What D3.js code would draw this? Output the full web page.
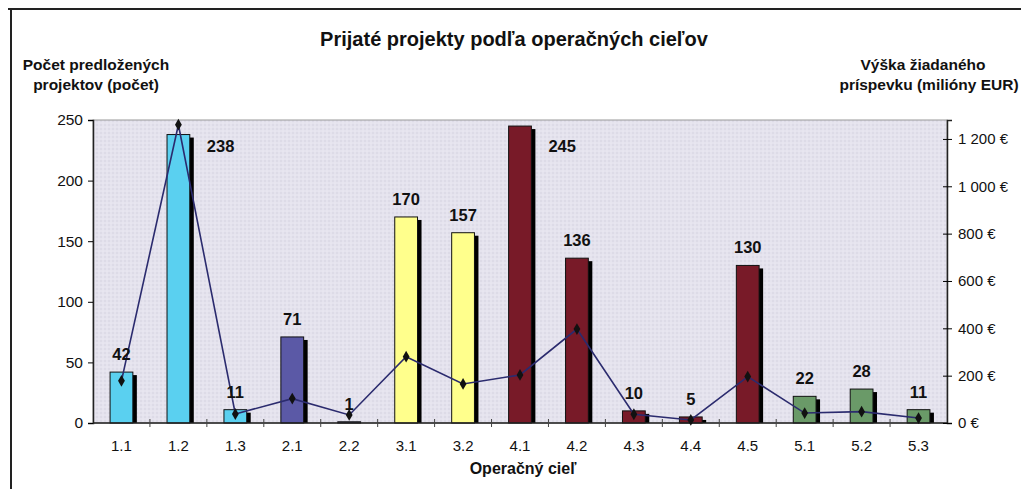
<!DOCTYPE html>
<html>
<head>
<meta charset="utf-8">
<script src="https://cdn.jsdelivr.net/npm/d3@7"></script>
<style>
  body { margin: 0; background: #fff; }
  text { font-family: "Liberation Sans", Arial, sans-serif; fill: #111; }
</style>
</head>
<body>
<svg width="1021" height="489"></svg>
<script>
var categories = ["1.1","1.2","1.3","2.1","2.2","3.1","3.2","4.1","4.2","4.3","4.4","4.5","5.1","5.2","5.3"];
var groups = ["1","1","1","2","2","3","3","4","4","4","4","4","5","5","5"];
var projects = [42, 238, 11, 71, 1, 170, 157, 245, 136, 10, 5, 130, 22, 28, 11];
var amounts = [178, 1260, 38, 103, 34, 280, 165, 203, 397, 37, 13, 196, 42, 48, 21];
var leftTicks = [0, 50, 100, 150, 200, 250];
var rightTicks = [0, 200, 400, 600, 800, 1000, 1200];

var groupColor = {"1": "#5ad0f0", "2": "#5b59a6", "3": "#ffff8c", "4": "#781a28", "5": "#6a9a68"};

var svg = d3.select("svg"),
    pLeft = 93, pRight = 947, pTop = 120, pBottom = 423;

var x = d3.scaleBand().domain(categories).range([pLeft, pRight]);
var y = d3.scaleLinear().domain([0, 250]).range([pBottom, pTop]);
var y2 = d3.scaleLinear().domain([0, 1280]).range([pBottom, pTop]);

// dotted background pattern
var defs = svg.append("defs");
var pat = defs.append("pattern").attr("id", "dots")
    .attr("width", 4).attr("height", 4).attr("patternUnits", "userSpaceOnUse");
pat.append("rect").attr("width", 4).attr("height", 4).attr("fill", "#e5e3ee");
pat.append("circle").attr("cx", 1).attr("cy", 1).attr("r", 0.8).attr("fill", "#d4d2e0");
pat.append("circle").attr("cx", 3).attr("cy", 3).attr("r", 0.6).attr("fill", "#f1f0f6");

// frame lines of the scanned page
svg.append("line").attr("x1", 8).attr("x2", 1021).attr("y1", 9).attr("y2", 9)
    .attr("stroke", "#222").attr("stroke-width", 2);
svg.append("line").attr("x1", 11).attr("x2", 11).attr("y1", 8).attr("y2", 489)
    .attr("stroke", "#222").attr("stroke-width", 2);

// plot area
svg.append("rect").attr("x", pLeft).attr("y", pTop)
    .attr("width", pRight - pLeft).attr("height", pBottom - pTop)
    .attr("fill", "url(#dots)").attr("stroke", "#999").attr("stroke-width", 1);

// bars with shadow
var bw = x.bandwidth() * 0.4;
var bars = svg.append("g").selectAll("g").data(categories).enter().append("g");

bars.append("rect")
    .attr("x", function(d) { return x(d) + (x.bandwidth() - bw) / 2 + 4; })
    .attr("y", function(d, i) { return Math.min(y(projects[i]) + 3, pBottom); })
    .attr("width", bw)
    .attr("height", function(d, i) { return Math.max(pBottom - y(projects[i]) - 3, 0); })
    .attr("fill", "#000");

bars.append("rect")
    .attr("x", function(d) { return x(d) + (x.bandwidth() - bw) / 2; })
    .attr("y", function(d, i) { return y(projects[i]); })
    .attr("width", bw)
    .attr("height", function(d, i) { return pBottom - y(projects[i]); })
    .attr("fill", function(d, i) { return groupColor[groups[i]]; })
    .attr("stroke", "#111").attr("stroke-width", 1);

// axes
var xAxis = svg.append("g").attr("transform", "translate(0," + pBottom + ")");
xAxis.append("line").attr("x1", pLeft).attr("x2", pRight).attr("stroke", "#222").attr("stroke-width", 1.5);
xAxis.selectAll(".tk").data(categories.slice(1)).enter().append("line")
    .attr("x1", function(d) { return x(d); }).attr("x2", function(d) { return x(d); })
    .attr("y1", -4).attr("y2", 4).attr("stroke", "#444");
xAxis.selectAll(".lb").data(categories).enter().append("text")
    .attr("x", function(d) { return x(d) + x.bandwidth() / 2; })
    .attr("y", 28).attr("text-anchor", "middle").style("font-size", "15px")
    .text(function(d) { return d; });

var yAxis = svg.append("g").attr("transform", "translate(" + pLeft + ",0)")
    .call(d3.axisLeft(y).tickValues(leftTicks).tickSize(5).tickPadding(5));
yAxis.select(".domain").attr("stroke", "#222").attr("stroke-width", 1.5);
yAxis.selectAll("text").style("font-size", "15.5px").style("font-family", "Liberation Sans, Arial, sans-serif");

var fmtEur = function(v) {
  var s = String(v);
  if (v >= 1000) s = s.slice(0, s.length - 3) + " " + s.slice(-3);
  return s + " €";
};
var y2Axis = svg.append("g").attr("transform", "translate(" + pRight + ",0)")
    .call(d3.axisRight(y2).tickValues(rightTicks).tickSize(5).tickPadding(6).tickFormat(fmtEur));
y2Axis.select(".domain").attr("stroke", "#222").attr("stroke-width", 1.5);
y2Axis.selectAll(".tick line").attr("x1", -4);
y2Axis.selectAll("text").style("font-size", "15px").style("font-family", "Liberation Sans, Arial, sans-serif");

// line series on right axis
var line = d3.line()
    .x(function(d, i) { return x(categories[i]) + x.bandwidth() / 2; })
    .y(function(d) { return y2(d); });
svg.append("path").datum(amounts).attr("d", line)
    .attr("fill", "none").attr("stroke", "#2b2b6e").attr("stroke-width", 1.6);
svg.append("g").selectAll("path").data(amounts).enter().append("path")
    .attr("d", d3.symbol().type(d3.symbolDiamond).size(40))
    .attr("transform", function(d, i) { return "translate(" + (x(categories[i]) + x.bandwidth() / 2) + "," + y2(d) + ")"; })
    .attr("fill", "#111");

// data labels
svg.append("g").selectAll("text").data(projects).enter().append("text")
    .attr("x", function(d, i) {
      var c = x(categories[i]) + x.bandwidth() / 2;
      return d > 200 ? c + bw / 2 + 17 : c;
    })
    .attr("y", function(d) { return d > 200 ? y(238) + 17 : y(d) - 12; })
    .attr("text-anchor", function(d) { return d > 200 ? "start" : "middle"; })
    .style("font-size", "16.5px").style("font-weight", "bold")
    .text(function(d) { return d; });

// titles
svg.append("text").attr("x", 514).attr("y", 46).attr("text-anchor", "middle")
    .style("font-size", "20px").style("font-weight", "bold")
    .text("Prijaté projekty podľa operačných cieľov");

var lt = svg.append("text").attr("text-anchor", "middle").style("font-size", "15.5px").style("font-weight", "bold");
lt.append("tspan").attr("x", 96).attr("y", 70).text("Počet predložených");
lt.append("tspan").attr("x", 96).attr("y", 90).text("projektov (počet)");

var rt = svg.append("text").attr("text-anchor", "middle").style("font-size", "15.5px").style("font-weight", "bold");
rt.append("tspan").attr("x", 923).attr("y", 70).text("Výška žiadaného");
rt.append("tspan").attr("x", 929).attr("y", 90).text("príspevku (milióny EUR)");

svg.append("text").attr("x", 523).attr("y", 474).attr("text-anchor", "middle")
    .style("font-size", "16px").style("font-weight", "bold")
    .text("Operačný cieľ");
</script>
</body>
</html>
